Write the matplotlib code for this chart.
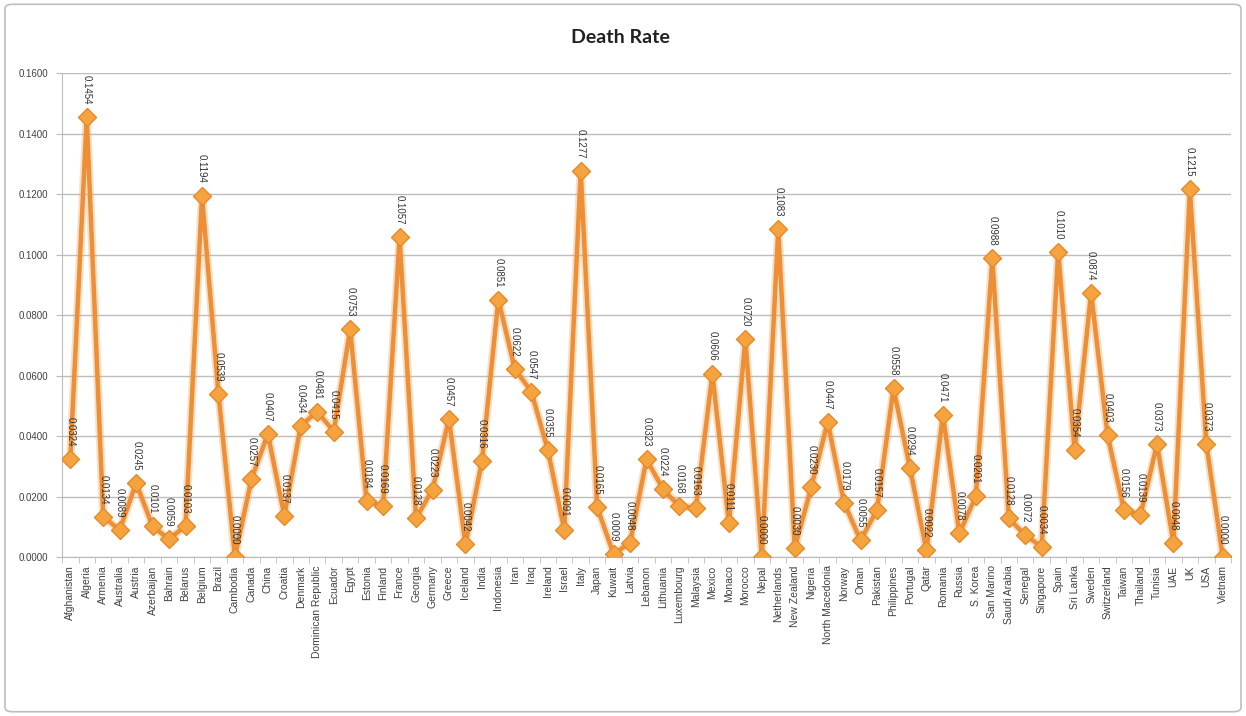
import numpy as np
import matplotlib.pyplot as plt
from matplotlib.patches import FancyBboxPatch

countries = ["Afghanistan", "Algeria", "Armenia", "Australia", "Austria", "Azerbaijan",
             "Bahrain", "Belarus", "Belgium", "Brazil", "Cambodia", "Canada", "China",
             "Croatia", "Denmark", "Dominican Republic", "Ecuador", "Egypt", "Estonia",
             "Finland", "France", "Georgia", "Germany", "Greece", "Iceland", "India",
             "Indonesia", "Iran", "Iraq", "Ireland", "Israel", "Italy", "Japan", "Kuwait",
             "Latvia", "Lebanon", "Lithuania", "Luxembourg", "Malaysia", "Mexico", "Monaco",
             "Morocco", "Nepal", "Netherlands", "New Zealand", "Nigeria", "North Macedonia",
             "Norway", "Oman", "Pakistan", "Philippines", "Portugal", "Qatar", "Romania",
             "Russia", "S. Korea", "San Marino", "Saudi Arabia", "Senegal", "Singapore",
             "Spain", "Sri Lanka", "Sweden", "Switzerland", "Taiwan", "Thailand", "Tunisia",
             "UAE", "UK", "USA", "Vietnam"]

death_rate = [0.0324, 0.1454, 0.0134, 0.0089, 0.0245, 0.0101,
              0.0059, 0.0103, 0.1194, 0.0539, 0.0000, 0.0257, 0.0407,
              0.0137, 0.0434, 0.0481, 0.0415, 0.0753, 0.0184,
              0.0169, 0.1057, 0.0128, 0.0223, 0.0457, 0.0042, 0.0316,
              0.0851, 0.0622, 0.0547, 0.0355, 0.0091, 0.1277, 0.0165, 0.0009,
              0.0048, 0.0323, 0.0224, 0.0168, 0.0163, 0.0606, 0.0111,
              0.0720, 0.0000, 0.1083, 0.0030, 0.0230, 0.0447,
              0.0179, 0.0055, 0.0157, 0.0558, 0.0294, 0.0022, 0.0471,
              0.0078, 0.0201, 0.0988, 0.0128, 0.0072, 0.0034,
              0.1010, 0.0354, 0.0874, 0.0403, 0.0156, 0.0139, 0.0373,
              0.0048, 0.1215, 0.0373, 0.0000]

yticks = [0.0, 0.02, 0.04, 0.06, 0.08, 0.10, 0.12, 0.14, 0.16]

plt.rcParams['font.family'] = ['Liberation Sans', 'DejaVu Sans']

fig = plt.figure(figsize=(12.46, 7.16), dpi=100)
ax = fig.add_axes([0.0498, 0.222, 0.9382, 0.676])

# rounded frame around the whole chart
fig.patches.append(FancyBboxPatch((0.004, 0.006), 0.992, 0.988,
                                  boxstyle="round,pad=0,rounding_size=0.006",
                                  transform=fig.transFigure, fill=False,
                                  edgecolor='#BEBEBE', linewidth=1.2))

x = np.arange(len(countries))
ax.plot(x, death_rate, color='#F2A65A', linewidth=6, alpha=0.35, zorder=2,
        solid_joinstyle='round')
ax.plot(x, death_rate, color='#EC8F36', linewidth=3.2, zorder=3,
        marker='D', markersize=9, markerfacecolor='#F5A33F',
        markeredgecolor='#E48A2A', markeredgewidth=1, solid_joinstyle='round')

for xi, v in zip(x, death_rate):
    ax.annotate("%.4f" % v, (xi, v), xytext=(0, 9), textcoords='offset points',
                rotation=-90, ha='center', va='bottom', fontsize=7,
                color='#333333', zorder=4)

ax.set_xlim(-0.5, len(countries) - 0.5)
ax.set_ylim(0, 0.16)
ax.set_yticks(yticks)
ax.set_yticklabels(["%.4f" % t for t in yticks], fontsize=7, color='#404040')
ax.set_xticks(x)
ax.set_xticklabels(countries, rotation=90, fontsize=7.5, color='#404040')
ax.set_xticks(np.arange(-0.5, len(countries), 1), minor=True)
ax.tick_params(axis='x', which='major', length=0, pad=6)
ax.tick_params(axis='x', which='minor', length=4, color='#BBBBBB', direction='out')
ax.tick_params(axis='y', length=4, color='#BBBBBB', pad=6)

ax.grid(axis='y', color='#BDBDBD', linewidth=1)
ax.set_axisbelow(True)
for side in ['top', 'right']:
    ax.spines[side].set_visible(False)
ax.spines['left'].set_color('#BBBBBB')
ax.spines['bottom'].set_color('#BBBBBB')

fig.text(0.498, 0.948, "Death Rate", ha='center', va='center', fontsize=14,
         fontweight='bold', color='#222222', family=['Lato', 'DejaVu Sans'])

fig.savefig('out.png', dpi=100)
